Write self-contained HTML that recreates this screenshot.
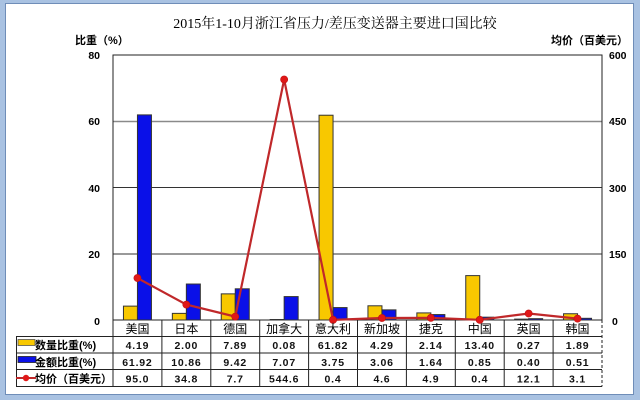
<!DOCTYPE html>
<html><head><meta charset="utf-8"><style>
html,body{margin:0;padding:0;width:640px;height:400px;overflow:hidden;background:#a9c2e2;}
svg{display:block}
.t{font-family:"Liberation Sans","Noto Sans CJK SC",sans-serif;}
</style></head><body>
<svg width="640" height="400" viewBox="0 0 640 400" xmlns="http://www.w3.org/2000/svg">
<rect x="0" y="0" width="640" height="400" fill="#a9c2e2"/>
<rect x="5.5" y="3.5" width="628" height="391" fill="#ffffff" stroke="#6f8db8" stroke-width="1"/>
<!-- title -->
<text x="335" y="28" text-anchor="middle" font-family="'Liberation Serif','Noto Serif CJK SC',serif" font-size="14" fill="#000">2015年1-10月浙江省压力/差压变送器主要进口国比较</text>
<!-- axis titles -->
<text class="t" x="75" y="44" font-size="11" font-weight="bold" fill="#000">比重（%）</text>
<text class="t" x="628" y="44" text-anchor="end" font-size="11" font-weight="bold" fill="#000">均价（百美元）</text>
<!-- gridlines -->
<g stroke-width="1">
<line x1="113" y1="121.5" x2="602" y2="121.5" stroke="#8a8a8a" stroke-width="1.6"/>
<line x1="113" y1="187.5" x2="602" y2="187.5" stroke="#333"/>
<line x1="113" y1="254" x2="602" y2="254" stroke="#333"/>
</g>
<!-- plot frame -->
<rect x="113" y="55" width="489" height="265" fill="none" stroke="#222" stroke-width="1"/>
<!-- left ticks -->
<g class="t" font-size="10.5" font-weight="bold" fill="#000" text-anchor="end">
<text x="100" y="59">80</text>
<text x="100" y="125">60</text>
<text x="100" y="192">40</text>
<text x="100" y="258">20</text>
<text x="100" y="325">0</text>
</g>
<g class="t" font-size="10.5" font-weight="bold" fill="#000" text-anchor="start">
<text x="609" y="59">600</text>
<text x="609" y="125">450</text>
<text x="609" y="192">300</text>
<text x="609" y="258">150</text>
<text x="612" y="325">0</text>
</g>
<!-- bars -->
<g stroke="#333" stroke-width="1">
<g fill="#f8c800">
<rect x="123.45" y="306.12" width="14" height="13.88"/>
<rect x="172.35" y="313.37" width="14" height="6.63"/>
<rect x="221.25" y="293.86" width="14" height="26.14"/>
<rect x="270.15" y="319.5" width="14" height="0.5"/>
<rect x="319.05" y="115.22" width="14" height="204.78"/>
<rect x="367.95" y="305.79" width="14" height="14.21"/>
<rect x="416.85" y="312.91" width="14" height="7.09"/>
<rect x="465.75" y="275.61" width="14" height="44.39"/>
<rect x="514.65" y="319.11" width="14" height="0.89"/>
<rect x="563.55" y="313.74" width="14" height="6.26"/>
</g>
<g fill="#0a10e8">
<rect x="137.45" y="114.89" width="14" height="205.11"/>
<rect x="186.35" y="284.03" width="14" height="35.97"/>
<rect x="235.25" y="288.8" width="14" height="31.2"/>
<rect x="284.15" y="296.58" width="14" height="23.42"/>
<rect x="333.05" y="307.58" width="14" height="12.42"/>
<rect x="381.95" y="309.86" width="14" height="10.14"/>
<rect x="430.85" y="314.57" width="14" height="5.43"/>
<rect x="479.75" y="317.18" width="14" height="2.82"/>
<rect x="528.65" y="318.67" width="14" height="1.33"/>
<rect x="577.55" y="318.31" width="14" height="1.69"/>
</g>
</g>
<!-- price line -->
<polyline fill="none" stroke="#c0282a" stroke-width="2.2" points="137.45,278.04 186.35,304.63 235.25,316.6 284.15,79.47 333.05,319.82 381.95,317.97 430.85,317.84 479.75,319.82 528.65,313.5 577.55,318.63"/>
<g fill="#e01818" stroke="#c01010" stroke-width="0.6">
<circle cx="137.45" cy="278.04" r="3.6"/>
<circle cx="186.35" cy="304.63" r="3.6"/>
<circle cx="235.25" cy="316.6" r="3.6"/>
<circle cx="284.15" cy="79.47" r="3.6"/>
<circle cx="333.05" cy="319.82" r="3.6"/>
<circle cx="381.95" cy="317.97" r="3.6"/>
<circle cx="430.85" cy="317.84" r="3.6"/>
<circle cx="479.75" cy="319.82" r="3.6"/>
<circle cx="528.65" cy="313.5" r="3.6"/>
<circle cx="577.55" cy="318.63" r="3.6"/>
</g>
<!-- table lines -->
<g stroke="#222" stroke-width="1" fill="none">
<line x1="16" y1="336.5" x2="602" y2="336.5"/>
<line x1="16" y1="353" x2="602" y2="353"/>
<line x1="16" y1="369.5" x2="602" y2="369.5"/>
<line x1="16" y1="386.5" x2="602" y2="386.5"/>
<line x1="16.5" y1="336.5" x2="16.5" y2="386.5"/>
<line x1="113" y1="320" x2="113" y2="386.5"/>
<line x1="161.9" y1="320" x2="161.9" y2="386.5"/>
<line x1="210.8" y1="320" x2="210.8" y2="386.5"/>
<line x1="259.7" y1="320" x2="259.7" y2="386.5"/>
<line x1="308.6" y1="320" x2="308.6" y2="386.5"/>
<line x1="357.5" y1="320" x2="357.5" y2="386.5"/>
<line x1="406.4" y1="320" x2="406.4" y2="386.5"/>
<line x1="455.3" y1="320" x2="455.3" y2="386.5"/>
<line x1="504.2" y1="320" x2="504.2" y2="386.5"/>
<line x1="553.1" y1="320" x2="553.1" y2="386.5"/>
<line x1="602" y1="320" x2="602" y2="386.5" stroke-dasharray="3,2"/>
</g>
<!-- legend swatches -->
<rect x="18" y="339.5" width="17" height="6" fill="#f8c800" stroke="#555" stroke-width="0.8"/>
<rect x="18" y="356.5" width="18" height="6" fill="#0a10e8" stroke="#222" stroke-width="0.8"/>
<line x1="16" y1="378" x2="36" y2="378" stroke="#c0282a" stroke-width="2"/>
<circle cx="26" cy="378" r="3.2" fill="#e01818"/>
<g class="t" font-size="11" font-weight="bold" fill="#000">
<text x="35" y="349">数量比重(%)</text>
<text x="35" y="366">金额比重(%)</text>
<text x="35" y="382.5">均价（百美元）</text>
</g>
<!-- country names -->
<g class="t" font-size="12" fill="#000" text-anchor="middle">
<text x="137.45" y="333">美国</text>
<text x="186.35" y="333">日本</text>
<text x="235.25" y="333">德国</text>
<text x="284.15" y="333">加拿大</text>
<text x="333.05" y="333">意大利</text>
<text x="381.95" y="333">新加坡</text>
<text x="430.85" y="333">捷克</text>
<text x="479.75" y="333">中国</text>
<text x="528.65" y="333">英国</text>
<text x="577.55" y="333">韩国</text>
</g>
<!-- values -->
<g class="t" font-size="10.5" font-weight="bold" fill="#111" text-anchor="middle" letter-spacing="0.8">
<text x="137.45" y="349">4.19</text>
<text x="186.35" y="349">2.00</text>
<text x="235.25" y="349">7.89</text>
<text x="284.15" y="349">0.08</text>
<text x="333.05" y="349">61.82</text>
<text x="381.95" y="349">4.29</text>
<text x="430.85" y="349">2.14</text>
<text x="479.75" y="349">13.40</text>
<text x="528.65" y="349">0.27</text>
<text x="577.55" y="349">1.89</text>

<text x="137.45" y="366">61.92</text>
<text x="186.35" y="366">10.86</text>
<text x="235.25" y="366">9.42</text>
<text x="284.15" y="366">7.07</text>
<text x="333.05" y="366">3.75</text>
<text x="381.95" y="366">3.06</text>
<text x="430.85" y="366">1.64</text>
<text x="479.75" y="366">0.85</text>
<text x="528.65" y="366">0.40</text>
<text x="577.55" y="366">0.51</text>

<text x="137.45" y="382.5">95.0</text>
<text x="186.35" y="382.5">34.8</text>
<text x="235.25" y="382.5">7.7</text>
<text x="284.15" y="382.5">544.6</text>
<text x="333.05" y="382.5">0.4</text>
<text x="381.95" y="382.5">4.6</text>
<text x="430.85" y="382.5">4.9</text>
<text x="479.75" y="382.5">0.4</text>
<text x="528.65" y="382.5">12.1</text>
<text x="577.55" y="382.5">3.1</text>
</g>
</svg>
</body></html>
